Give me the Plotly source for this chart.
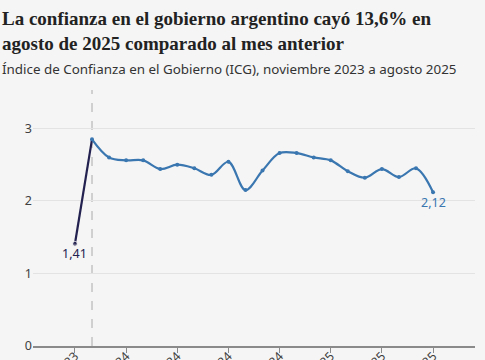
import plotly.graph_objects as go

months = ["nov 23", "dic 23", "ene 24", "feb 24", "mar 24", "abr 24", "may 24", "jun 24",
          "jul 24", "ago 24", "sep 24", "oct 24", "nov 24", "dic 24", "ene 25", "feb 25",
          "mar 25", "abr 25", "may 25", "jun 25", "jul 25", "ago 25"]
icg = [1.41, 2.85, 2.60, 2.56, 2.56, 2.44, 2.50, 2.45, 2.36, 2.54, 2.15, 2.42,
       2.66, 2.66, 2.60, 2.56, 2.41, 2.32, 2.44, 2.33, 2.45, 2.12]
tick_labels = ["nov 23", "feb 24", "may 24", "ago 24", "nov 24", "feb 25", "may 25", "ago 25"]
y_ticks = [0, 1, 2, 3]

idx = list(range(len(months)))
tick_idx = [months.index(t) for t in tick_labels]

BLUE = "#3a76b0"
NAVY = "#23214f"
PLOT_TOP, PLOT_BOT = 90, 346
H = PLOT_BOT - PLOT_TOP


def py(px):
    return (PLOT_BOT - px) / H


fig = go.Figure()
fig.add_trace(go.Scatter(x=idx[:2], y=icg[:2], mode="lines+markers",
                         line=dict(color=NAVY, width=2.2),
                         marker=dict(size=[5, 0], color=NAVY),
                         hoverinfo="skip", showlegend=False))
fig.add_trace(go.Scatter(x=idx[1:], y=icg[1:], mode="lines+markers",
                         line=dict(color=BLUE, width=2.2, shape="spline", smoothing=1),
                         marker=dict(size=4, color=BLUE),
                         hoverinfo="skip", showlegend=False))

fig.add_shape(type="line", x0=1, x1=1, y0=0, y1=1, yref="paper",
              line=dict(color="#aaaaaa", width=1, dash="dash"), layer="below")

fig.add_annotation(x=idx[0], y=icg[0], text=str(icg[0]).replace(".", ","),
                   showarrow=False, yshift=-10, font=dict(color=NAVY, size=12.5, family="Noto Sans"))
fig.add_annotation(x=idx[-1], y=icg[-1], text=f"{icg[-1]:.2f}".replace(".", ","),
                   showarrow=False, yshift=-10, font=dict(color=BLUE, size=12.5, family="Noto Sans"))

fig.add_annotation(text="La confianza en el gobierno argentino cayó 13,6% en<br>agosto de 2025 comparado al mes anterior",
                   xref="paper", yref="paper", x=-33/442, y=py(6), xanchor="left", yanchor="top",
                   align="left", showarrow=False,
                   font=dict(family="Liberation Serif", size=19, color="#222222", weight="bold"))
fig.add_annotation(text="Índice de Confianza en el Gobierno (ICG), noviembre 2023 a agosto 2025",
                   xref="paper", yref="paper", x=-33/442, y=py(58), xanchor="left", yanchor="top",
                   showarrow=False, font=dict(size=13.4, color="#333333", family="Noto Sans"))

fig.update_layout(
    width=485, height=360,
    margin=dict(l=33, r=10, t=PLOT_TOP, b=360 - PLOT_BOT),
    paper_bgcolor="#f5f5f5", plot_bgcolor="#f5f5f5",
    font=dict(family="Noto Sans", color="#404040"),
)

fig.update_xaxes(range=[-2.46, 23.46], tickvals=tick_idx, ticktext=tick_labels, tickangle=-45,
                 showgrid=False, zeroline=False, showline=True, linecolor="#8a8a8a", linewidth=2,
                 ticks="outside", ticklen=5, tickcolor="#8a8a8a", tickfont=dict(size=12.5, color="#404040"),
                 ticklabelstandoff=-9, automargin=False, fixedrange=True)
fig.update_yaxes(range=[0, 3.53], tickvals=y_ticks, showgrid=True, gridcolor="#e3e3e3", gridwidth=1,
                 zeroline=False, showline=False, ticks="", tickfont=dict(size=12.5, color="#404040"),
                 automargin=False, fixedrange=True)

fig.write_html("out.html", config={"displayModeBar": False},
               post_script="document.body.style.margin='0px';document.body.style.background='#f5f5f5';")
